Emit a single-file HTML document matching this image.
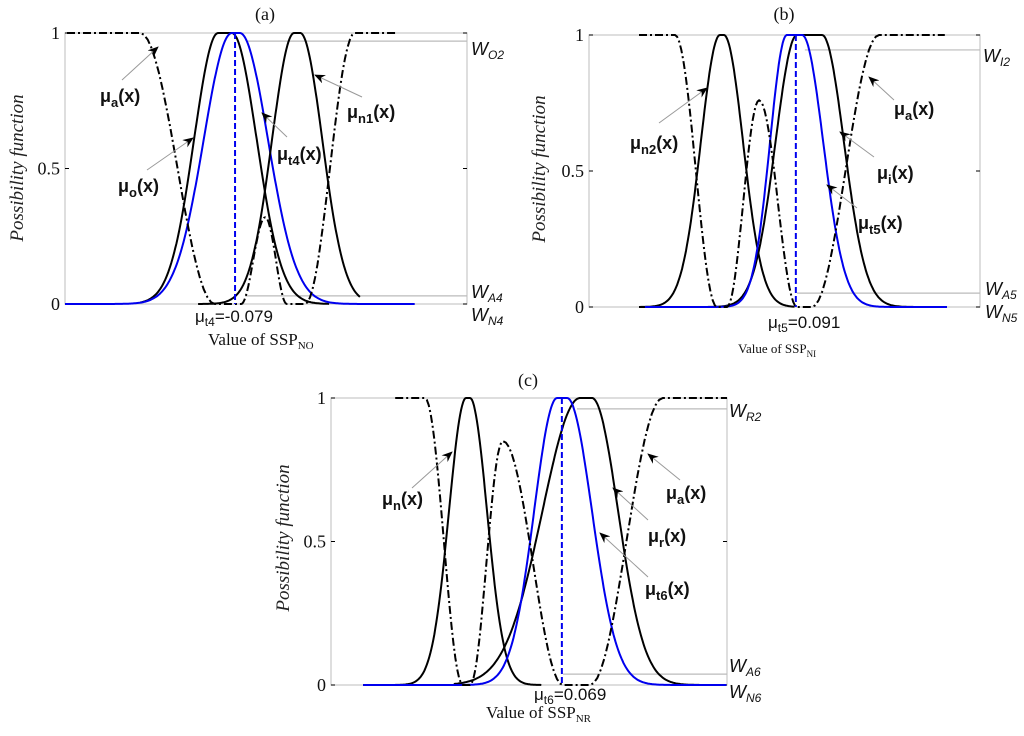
<!DOCTYPE html>
<html><head><meta charset="utf-8"><style>
body{margin:0;background:#fff;}
svg{display:block;}
.tick{font-family:"Liberation Serif",serif;font-size:18px;fill:#111;}
.ttl{font-family:"Liberation Serif",serif;font-size:19px;font-style:italic;fill:#222;}
.lbl{font-family:"Liberation Sans",sans-serif;font-size:18px;font-weight:bold;fill:#111;}
.w{font-family:"Liberation Sans",sans-serif;font-size:18px;font-style:italic;fill:#111;}
.tv{font-family:"Liberation Sans",sans-serif;font-size:17px;fill:#111;}
.xl{font-family:"Liberation Serif",serif;font-size:17px;fill:#111;}
.pt{font-family:"Liberation Serif",serif;font-size:18px;fill:#111;}
</style></head><body>
<svg id="fig" width="1024" height="736" viewBox="0 0 1024 736" xmlns="http://www.w3.org/2000/svg">
</svg>
<script>
// ---- panel (a) data (x in 0..100 across plot, y possibility) ----
const aGaussC1=[38.1,41.5,57.0];
const aGaussC2=[41.5,43.5,58.5];
const aGaussSL=[6.0,7.0,5.5];
const aGaussSR=[6.2,7.0,5.5];
const aGaussFrom=[18.7,0,33.1];
const aGaussTo=[65.9,87.1,73.4];
const aGaussBlue=[0,1,0];
const aDashX=[0.5,18.7,37.3,43.8,49.8,55.2,59.7,72.1,82.8];
const aDashY=[1,1,0,0,0.32,0,0,1,1];
const aT=42.3, aW=[0.970,0.03], aWfrom=[45.5,44.8];
// ---- panel (b) ----
const bGaussC1=[33.5,53.2,50.6];
const bGaussC2=[34.5,59.6,54.5];
const bGaussSL=[4.9,5.5,4.3];
const bGaussSR=[4.9,5.6,5.4];
const bGaussFrom=[12.8,12.8,14.3];
const bGaussTo=[52.7,91.0,91.6];
const bGaussBlue=[0,0,1];
const bDashX=[12.8,22.0,32.7,35.3,43.5,53.2,57.0,74.2,91.0];
const bDashY=[1,1,0,0,0.76,0,0,1,1];
const bT=52.9, bW=[0.945,0.051], bWfrom=[55.2,53.2];
// ---- panel (c) ----
const cGaussC1=[34.1,62.9,57.1];
const cGaussC2=[35.1,65.9,59.6];
const cGaussSL=[4.3,9.5,5.8];
const cGaussSR=[4.3,6.6,6.3];
const cGaussFrom=[8.1,31.0,8.1];
const cGaussTo=[53.3,93.2,100];
const cGaussBlue=[0,0,1];
const cDashX=[16.2,23.7,33.3,35.1,43.4,58.6,65.4,83.8,100];
const cDashY=[1,1,0,0,0.85,0,0,1,1];
const cT=58.3, cW=[0.962,0.038], cWfrom=[62.1,58.6];
const yTicks=[0,0.5,1], yTickLabels=["0","0.5","1"];

const NS="http://www.w3.org/2000/svg";
const svg=document.getElementById('fig');
function mk(tag,at,parent){const e=document.createElementNS(NS,tag);for(const k in at)e.setAttribute(k,at[k]);(parent||svg).appendChild(e);return e;}

function panel(P){
  const g=mk('g',{});
  
  
  const X=v=>P.l+(P.r-P.l)*v/100, Y=v=>P.b-(P.b-P.t)*v;
  const fr=mk('rect',{x:P.l,y:P.t,width:P.r-P.l,height:P.b-P.t,fill:'none',stroke:'#c8c8c8','stroke-width':1.2},g);
  
  
  yTicks.forEach((t,i)=>{
    const tk=mk('line',{x1:P.l,x2:P.l+4,y1:Y(t),y2:Y(t),stroke:'#000','stroke-width':1},g);
    
    
    mk('line',{x1:P.r-4,x2:P.r,y1:Y(t),y2:Y(t),stroke:'#000','stroke-width':1},g);
    const tl=mk('text',{x:P.l-5,y:Y(t)+6,'text-anchor':'end',class:'tick'},g);
    tl.textContent=yTickLabels[i];
    
    
  });
  P.W.forEach((w,i)=>{
    const wl=mk('line',{x1:X(P.Wfrom[i]),x2:P.r,y1:Y(w),y2:Y(w),stroke:'#bbb','stroke-width':1.2},g);
    
    
  });
  P.c1.forEach((c1,i)=>{
    let d='';
    for(let x=P.from[i];x<=P.to[i]+1e-9;x+=0.25){
      let y;
      if(x<c1)y=Math.exp(-Math.pow((x-c1)/P.sL[i],2)/2);
      else if(x>P.c2[i])y=Math.exp(-Math.pow((x-P.c2[i])/P.sR[i],2)/2);
      else y=1;
      d+=(d?'L':'M')+X(x).toFixed(1)+','+Y(y).toFixed(1);
    }
    const p=mk('path',{d:d,fill:'none',stroke:P.blue[i]?'#0000ee':'#000','stroke-width':2},g);
    
    
  });
  let d='';
  for(let k=0;k<P.dx.length-1;k++){
    for(let s=0;s<=20;s++){
      const u=s/20,x=P.dx[k]+(P.dx[k+1]-P.dx[k])*u;
      const y=P.dy[k]+(P.dy[k+1]-P.dy[k])*(1-Math.cos(Math.PI*u))/2;
      d+=(d?'L':'M')+X(x).toFixed(1)+','+Y(y).toFixed(1);
    }
  }
  const dd=mk('path',{d:d,fill:'none',stroke:'#000','stroke-width':2,'stroke-dasharray':'8 3 2 3'},g);
  
  
  const tv=mk('line',{x1:X(P.tv),x2:X(P.tv),y1:Y(1),y2:Y(0),stroke:'#0000ee','stroke-width':2,'stroke-dasharray':'6 3'},g);
  
  
}
panel({name:'panel-a',l:65,r:467,t:33,b:304,c1:aGaussC1,c2:aGaussC2,sL:aGaussSL,sR:aGaussSR,from:aGaussFrom,to:aGaussTo,blue:aGaussBlue,dx:aDashX,dy:aDashY,tv:aT,W:aW,Wfrom:aWfrom});
panel({name:'panel-b',l:589,r:980,t:35,b:307,c1:bGaussC1,c2:bGaussC2,sL:bGaussSL,sR:bGaussSR,from:bGaussFrom,to:bGaussTo,blue:bGaussBlue,dx:bDashX,dy:bDashY,tv:bT,W:bW,Wfrom:bWfrom});
panel({name:'panel-c',l:331,r:727,t:398,b:685,c1:cGaussC1,c2:cGaussC2,sL:cGaussSL,sR:cGaussSR,from:cGaussFrom,to:cGaussTo,blue:cGaussBlue,dx:cDashX,dy:cDashY,tv:cT,W:cW,Wfrom:cWfrom});
</script>
<svg width="1024" height="736" style="position:absolute;left:0;top:0" xmlns="http://www.w3.org/2000/svg">
<defs><marker id="ah2" markerWidth="11" markerHeight="9" refX="10" refY="4.5" orient="auto" markerUnits="userSpaceOnUse"><path d="M0,0 L11,4.5 L0,9 L3.5,4.5 Z" fill="#000"/></marker></defs>
<g stroke="#999" stroke-width="1" marker-end="url(#ah2)">
<line x1="122" y1="80" x2="158" y2="47"/>
<line x1="147" y1="170" x2="193" y2="138"/>
<line x1="287" y1="137" x2="262" y2="113"/>
<line x1="362" y1="97" x2="315" y2="75"/>
<line x1="659" y1="123" x2="707" y2="88"/>
<line x1="894" y1="100" x2="869" y2="77"/>
<line x1="874" y1="157" x2="840" y2="132"/>
<line x1="857" y1="208" x2="827" y2="185"/>
<line x1="412" y1="488" x2="452" y2="452"/>
<line x1="680" y1="480" x2="648" y2="454"/>
<line x1="648" y1="520" x2="613" y2="488"/>
<line x1="648" y1="577" x2="600" y2="533"/>
</g>
<g class="lbl">
<text x="100" y="102">μ<tspan font-size="13" dy="5">a</tspan><tspan dy="-5">(x)</tspan></text>
<text x="118" y="192">μ<tspan font-size="13" dy="5">o</tspan><tspan dy="-5">(x)</tspan></text>
<text x="277" y="160">μ<tspan font-size="13" dy="5">t4</tspan><tspan dy="-5">(x)</tspan></text>
<text x="347" y="118">μ<tspan font-size="13" dy="5">n1</tspan><tspan dy="-5">(x)</tspan></text>
<text x="630" y="149">μ<tspan font-size="13" dy="5">n2</tspan><tspan dy="-5">(x)</tspan></text>
<text x="894" y="115">μ<tspan font-size="13" dy="5">a</tspan><tspan dy="-5">(x)</tspan></text>
<text x="877" y="179">μ<tspan font-size="13" dy="5">i</tspan><tspan dy="-5">(x)</tspan></text>
<text x="858" y="229">μ<tspan font-size="13" dy="5">t5</tspan><tspan dy="-5">(x)</tspan></text>
<text x="382" y="505">μ<tspan font-size="13" dy="5">n</tspan><tspan dy="-5">(x)</tspan></text>
<text x="666" y="499">μ<tspan font-size="13" dy="5">a</tspan><tspan dy="-5">(x)</tspan></text>
<text x="648" y="542">μ<tspan font-size="13" dy="5">r</tspan><tspan dy="-5">(x)</tspan></text>
<text x="645" y="595">μ<tspan font-size="13" dy="5">t6</tspan><tspan dy="-5">(x)</tspan></text>
</g>
<g class="w">
<text x="471" y="55">W<tspan font-size="12" dy="4">O2</tspan></text>
<text x="471" y="298">W<tspan font-size="12" dy="4">A4</tspan></text>
<text x="471" y="321">W<tspan font-size="12" dy="4">N4</tspan></text>
<text x="983" y="62">W<tspan font-size="12" dy="4">I2</tspan></text>
<text x="985" y="295">W<tspan font-size="12" dy="4">A5</tspan></text>
<text x="985" y="318">W<tspan font-size="12" dy="4">N5</tspan></text>
<text x="729" y="417">W<tspan font-size="12" dy="4">R2</tspan></text>
<text x="729" y="672">W<tspan font-size="12" dy="4">A6</tspan></text>
<text x="729" y="698">W<tspan font-size="12" dy="4">N6</tspan></text>
</g>
<g class="tv">
<text x="195" y="322">μ<tspan font-size="12" dy="4">t4</tspan><tspan dy="-4">=-0.079</tspan></text>
<text x="768" y="328">μ<tspan font-size="12" dy="4">t5</tspan><tspan dy="-4">=0.091</tspan></text>
<text x="534" y="700">μ<tspan font-size="12" dy="4">t6</tspan><tspan dy="-4">=0.069</tspan></text>
</g>
<g class="xl">
<text x="208" y="345">Value of SSP<tspan font-size="11" dy="4">NO</tspan></text>
<text x="738" y="353" font-size="13">Value of SSP<tspan font-size="9" dy="4">NI</tspan></text>
<text x="486" y="718">Value of SSP<tspan font-size="11" dy="4">NR</tspan></text>
</g>
<g class="pt">
<text x="265" y="20" text-anchor="middle">(a)</text>
<text x="784" y="20" text-anchor="middle">(b)</text>
<text x="528" y="386" text-anchor="middle">(c)</text>
</g>
<g class="ttl">
<text transform="translate(23,168) rotate(-90)" text-anchor="middle">Possibility function</text>
<text transform="translate(545,169) rotate(-90)" text-anchor="middle">Possibility function</text>
<text transform="translate(289,538) rotate(-90)" text-anchor="middle">Possibility function</text>
</g>
</svg>
</body></html>
